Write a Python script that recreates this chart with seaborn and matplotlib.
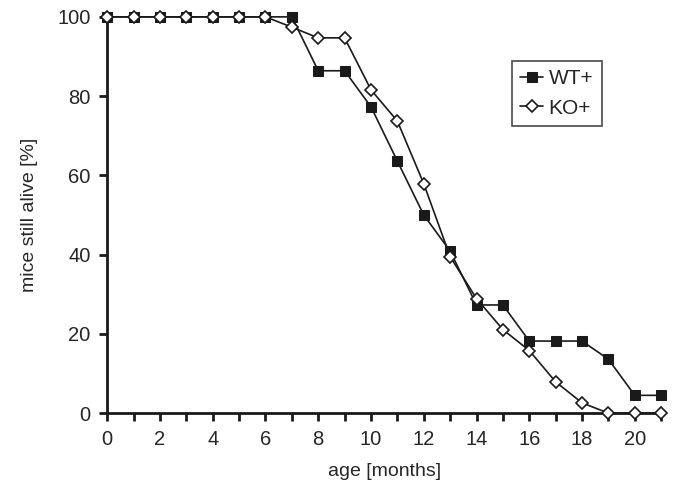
import numpy as np
import pandas as pd
import seaborn as sns
import matplotlib.pyplot as plt

months = list(range(0, 22))
wt_alive = [100, 100, 100, 100, 100, 100, 100, 100, 86.4, 86.4, 77.3, 63.6,
            50.0, 40.9, 27.3, 27.3, 18.2, 18.2, 18.2, 13.6, 4.5, 4.5]
ko_alive = [100, 100, 100, 100, 100, 100, 100, 97.4, 94.7, 94.7, 81.6, 73.7,
            57.9, 39.5, 28.9, 21.1, 15.8, 7.9, 2.6, 0, 0, 0]
groups = ["WT+", "KO+"]

df = pd.concat([
    pd.DataFrame({"age": months, "alive": wt_alive, "group": groups[0]}),
    pd.DataFrame({"age": months, "alive": ko_alive, "group": groups[1]}),
])

sns.set_style("ticks")
plt.rcParams["font.family"] = ["Liberation Sans", "DejaVu Sans"]

fig = plt.figure(figsize=(6.74, 4.96), dpi=100)
ax = fig.add_axes([0.159, 0.167, 0.822, 0.799])

sns.lineplot(data=df[df.group == "WT+"], x="age", y="alive", ax=ax, color="#1a1a1a",
             marker="s", markersize=7.5, markerfacecolor="#1a1a1a", markeredgecolor="#1a1a1a",
             linewidth=1.2, label="WT+", clip_on=False, zorder=3)
sns.lineplot(data=df[df.group == "KO+"], x="age", y="alive", ax=ax, color="#1a1a1a",
             marker="D", markersize=6.5, markerfacecolor="white", markeredgecolor="#1a1a1a",
             markeredgewidth=1.2, linewidth=1.2, label="KO+", clip_on=False, zorder=4)

ax.set_xlim(0, 21)
ax.set_ylim(0, 100)
ax.set_xticks(range(0, 22))
ax.set_xticklabels([str(m) if m % 2 == 0 else "" for m in range(0, 22)])
ax.set_yticks([0, 20, 40, 60, 80, 100])
sns.despine(ax=ax)
for s in ["left", "bottom"]:
    ax.spines[s].set_linewidth(2)
    ax.spines[s].set_color("#1a1a1a")
ax.tick_params(axis="both", length=6, width=2, color="#1a1a1a", labelsize=14.5, pad=6)
ax.set_xlabel("age [months]", fontsize=14, labelpad=10)
ax.set_ylabel("mice still alive [%]", fontsize=14, labelpad=14)

leg = ax.legend(loc="upper left", bbox_to_anchor=(0.731, 0.889), frameon=True, fancybox=False,
                edgecolor="#1a1a1a", fontsize=15, handlelength=1.1, handletextpad=0.25,
                borderpad=0.4, labelspacing=0.5, borderaxespad=0)
leg.get_frame().set_linewidth(1.2)

fig.savefig("out.png", dpi=100)
